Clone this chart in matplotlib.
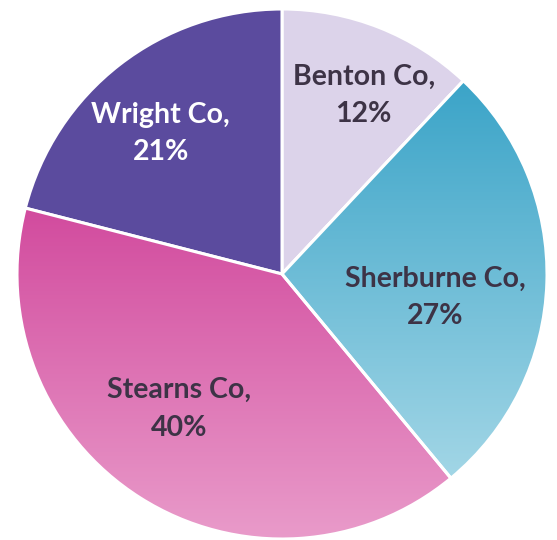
import numpy as np
import matplotlib.pyplot as plt
from matplotlib.colors import LinearSegmentedColormap
from matplotlib.patches import Wedge

# data
counties = ["Benton Co", "Sherburne Co", "Stearns Co", "Wright Co"]
shares = [12, 27, 40, 21]
top_colors = ["#dcd3ea", "#3ba4c8", "#d24b9e", "#5b4b9e"]
bottom_colors = ["#dcd3ea", "#a2d6e6", "#e99bca", "#5b4b9e"]
label_colors = ["#3d3346", "#3d3346", "#3d3346", "#ffffff"]
label_frac = [0.74, 0.585, 0.64, 0.70]
label_angle_shift = [-3, -7, -5, 3]

W, H = 557, 540
cx, cy, R = 282, 266, 265

fig = plt.figure(figsize=(W / 100, H / 100), dpi=100)
ax = fig.add_axes([0, 0, 1, 1])

wedges, _ = ax.pie(shares, startangle=90, counterclock=False, center=(cx, cy),
                   radius=R, colors=top_colors, frame=True,
                   wedgeprops=dict(edgecolor="white", linewidth=2.2))
ax.set_xlim(0, W)
ax.set_ylim(0, H)
ax.set_aspect("equal")
ax.axis("off")

# vertical gradients inside the wedges
inv = ax.transData.inverted()
for i, w in enumerate(wedges):
    if top_colors[i] == bottom_colors[i]:
        continue
    ext = w.get_path().get_extents(w.get_transform())
    (x0, y0), (x1, y1) = inv.transform([[ext.x0, ext.y0], [ext.x1, ext.y1]])
    cmap = LinearSegmentedColormap.from_list("g%d" % i, [bottom_colors[i], top_colors[i]])
    grad = np.linspace(0, 1, 256).reshape(-1, 1)
    im = ax.imshow(grad, extent=(x0, x1, y0, y1), origin="lower", cmap=cmap,
                   aspect="auto", zorder=w.get_zorder() + 0.1)
    im.set_clip_path(w)
    # white edge back on top
    ax.add_patch(Wedge((cx, cy), R, w.theta1, w.theta2, fill=False,
                       edgecolor="white", linewidth=2.2, zorder=w.get_zorder() + 0.2))

# labels
for i, w in enumerate(wedges):
    ang = np.deg2rad((w.theta1 + w.theta2) / 2 + label_angle_shift[i])
    r = R * label_frac[i]
    ax.text(cx + r * np.cos(ang), cy + r * np.sin(ang),
            "%s,\n%d%%" % (counties[i], shares[i]),
            ha="center", va="center", fontsize=20.5, fontweight="bold",
            family="Lato", color=label_colors[i], linespacing=1.55, zorder=10)

fig.savefig("out.png", dpi=100, facecolor="white")
